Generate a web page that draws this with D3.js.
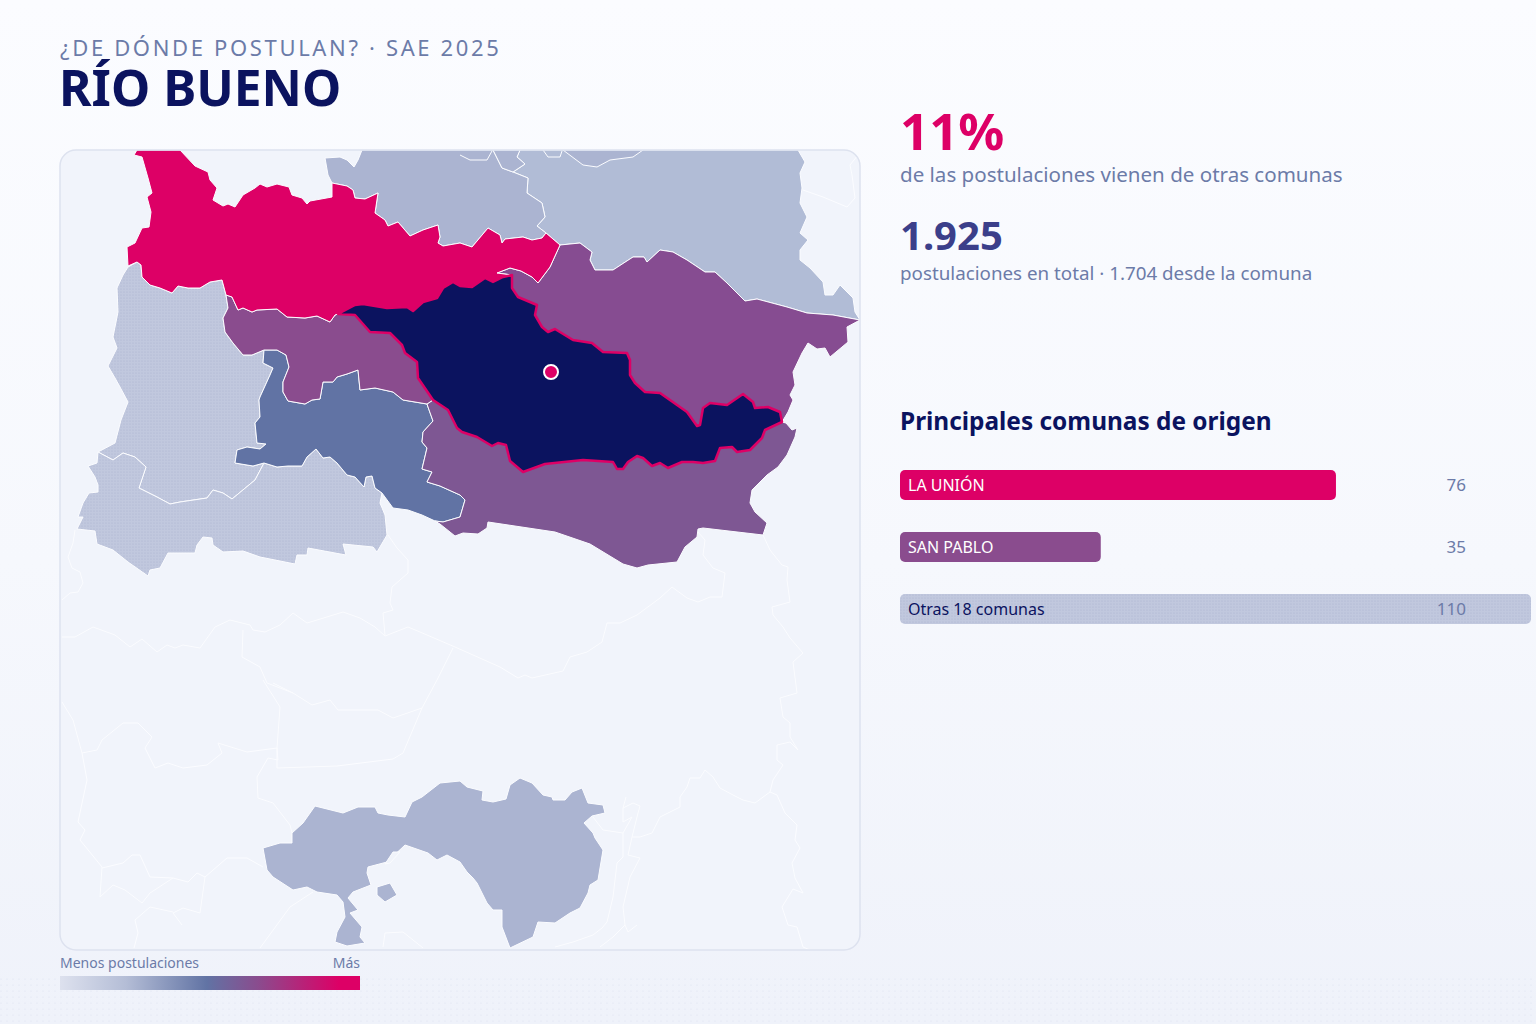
<!DOCTYPE html>
<html lang="es">
<head>
<meta charset="utf-8">
<title>Río Bueno</title>
<script src="https://cdn.jsdelivr.net/npm/d3@7"></script>
<style>
  html, body { margin: 0; padding: 0; background: #f8f9fd; overflow: hidden; }
  text { font-family: "Noto Sans", "Open Sans", sans-serif; }
</style>
</head>
<body>
<svg id="chart" width="1536" height="1024"></svg>
<script>
// textos
const subtitulo = '¿DE DÓNDE POSTULAN? · SAE 2025';
const comuna = 'RÍO BUENO';
const kpiValores = ['11%', '1.925'];
const kpiTextos = ['de las postulaciones vienen de otras comunas', 'postulaciones en total · 1.704 desde la comuna'];
const rankingTitulo = 'Principales comunas de origen';
const leyendaTextos = ['Menos postulaciones', 'Más'];

// barras
const origenes = ['LA UNIÓN', 'SAN PABLO', 'Otras 18 comunas'];
const postulaciones = [76, 35, 110];
const coloresBarra = ['#dd0066', '#8a4c8e', '#c0c7de'];

// leyenda
const leyendaPos = [0, 0.22, 0.49, 0.66, 0.93, 1];
const leyendaColores = ['#dde1ee', '#b4bdd6', '#6173a4', '#8a4c8e', '#dd0066', '#dd0066'];

// bordes compartidos
const unionCostaNorte = [[134,155],[137,150],[149,150],[180,150],[195,166],[208,172],[210,180],[217,188],[213,200],[223,206],[228,204],[235,207],[243,195],[255,188],[260,184],[267,187],[277,184],[289,187],[292,195],[302,198],[307,204],[310,201],[332,197],[332,183]];
const unionNorte = [[347,186],[353,190],[355,198],[365,199],[378,193],[375,213],[385,220],[388,226],[398,222],[410,236],[423,230],[438,225],[440,237],[438,243],[443,246],[460,243],[472,247],[488,228],[500,235],[502,243],[505,239],[523,237],[532,240],[542,238],[546,233]];
const unionNe = [[560,245],[550,267],[538,283],[532,277],[521,271],[510,268],[497,273]];
const unionRioBueno = [[338,314],[355,305],[363,304],[387,308],[407,307],[413,311],[423,302],[437,298],[443,288],[453,282],[460,286],[472,287],[485,278],[493,282],[503,277],[512,275]];
const unionOeste = [[338,314],[335,315],[330,322],[317,316],[305,318],[287,317],[277,309],[257,310],[252,312],[243,308],[238,310],[232,297],[226,295]];
const unionSur = [[222,280],[210,282],[200,288],[188,288],[178,286],[172,293],[160,288],[150,285],[142,277],[141,265],[137,262]];
const unionCostaOeste = [[128,266],[127,247],[135,243],[142,228],[149,227],[151,212],[147,197],[152,193],[148,178],[142,157]];

const neRioBueno = [[512,275],[512,288],[518,297],[537,305],[535,315],[542,327],[548,332],[555,329],[573,340],[592,343],[603,352],[627,353],[630,360],[630,375],[635,383],[645,392],[660,393],[687,412],[697,426],[700,425],[703,408],[710,403],[727,405],[743,394],[753,402],[755,408],[768,407],[780,412],[782,422]];
const surRioBueno = [[782,422],[765,430],[762,438],[750,450],[737,452],[732,447],[720,448],[715,461],[703,463],[693,462],[682,462],[668,468],[660,463],[652,466],[643,458],[637,456],[628,462],[623,469],[617,469],[613,462],[583,460],[545,464],[523,472],[510,461],[506,445],[498,443],[492,446],[477,437],[462,432],[457,428],[448,410],[433,400]];
const oesteRioBueno = [[433,400],[418,378],[417,362],[405,353],[402,345],[390,333],[370,332],[355,315],[338,314]];

const neNorte = [[560,245],[580,243],[592,252],[590,260],[595,270],[613,270],[633,257],[644,257],[647,262],[660,250],[673,252],[687,260],[705,272],[715,272],[727,283],[745,301],[757,299],[787,307],[807,313],[833,315],[860,320]];
const neEste = [[847,327],[848,342],[830,357],[825,348],[817,349],[808,343],[802,353],[793,372],[795,385],[790,395],[793,400],[788,412]];

const surContorno = [[786,423],[792,430],[797,428],[795,437],[787,455],[778,467],[767,475],[752,490],[750,503],[755,512],[767,523],[763,535],[703,528],[698,529],[697,537],[685,547],[677,562],[648,565],[637,568],[623,564],[590,544],[555,532],[488,522],[487,528],[478,534],[463,533],[455,536],[440,524],[435,521]];

const azulNorte = [[264,350],[277,350],[286,355],[289,367],[283,382],[283,392],[288,401],[305,404],[312,400],[320,399],[323,382],[333,382],[337,377],[347,374],[358,370],[360,390],[375,388],[393,392],[403,400],[427,404]];
const azulSur = [[428,407],[433,421],[423,432],[422,442],[427,448],[422,469],[432,472],[427,482],[440,486],[460,495],[465,500],[460,517],[443,522],[435,521]];
const azulBajoEste = [[422,515],[408,510],[393,508],[382,493]];
const azulBajoOeste = [[382,493],[375,488],[372,476],[366,477],[364,487],[355,477],[347,475],[337,463],[330,457],[323,458],[316,449],[307,457],[302,466],[288,466],[277,467],[264,463]];
const azulOeste = [[253,466],[235,463],[237,450],[247,447],[260,449],[266,444],[257,443],[255,423],[260,417],[259,400],[260,397],[270,375],[273,368],[263,363]];
const oesteIzq = [[228,308],[223,318],[225,332],[233,343],[243,355],[252,355],[264,350]];

const costaBajo = [[264,463],[255,480],[232,499],[223,493],[213,490],[207,498],[180,502],[170,504],[157,497],[139,488],[146,467],[135,457],[123,453],[113,460],[98,452]];
const costaOeste = [[115,443],[121,420],[128,402],[120,387],[115,378],[108,366],[117,348],[113,337],[118,312],[117,288],[123,275],[128,267]];
const swSur = [[380,503],[385,515],[387,535],[377,552],[373,547],[343,544],[346,555],[335,553],[308,548],[307,555],[297,555],[295,564],[280,561],[260,557],[243,551],[223,552],[213,545],[212,538],[203,537],[197,545],[195,553],[168,553],[160,568],[150,570],[148,576],[128,562],[113,550],[97,544],[95,531],[77,529],[83,517],[78,517],[83,503],[89,493],[98,492],[98,485],[95,477],[88,466],[97,463]];

const norteOeste = [[362,150],[358,160],[354,167],[347,160],[340,157],[325,158],[328,175],[332,183]];
const norteEste = [[537,226],[545,217],[542,203],[527,193],[528,178],[513,172]];
const norteCierre = [[502,168],[493,150]];
const celdaNorte = [[493,150],[502,168],[513,172],[525,164],[517,157],[520,150]];
const celdaNorte2 = [[563,150],[583,165],[597,167],[610,160],[633,157],[643,150]];
const altaEste = [[855,312],[853,298],[840,285],[833,295],[825,295],[823,282],[810,268],[800,260],[800,250],[808,240],[800,233],[807,217],[800,203],[802,188],[800,173],[805,162],[798,150]];

const sur2Contorno = [[263,848],[280,843],[292,843],[292,833],[303,823],[315,806],[343,813],[358,807],[375,807],[378,813],[388,815],[405,817],[412,802],[422,797],[440,783],[460,781],[467,787],[483,791],[482,800],[493,802],[506,799],[510,785],[520,778],[532,783],[543,795],[552,797],[553,800],[565,800],[572,792],[582,788],[588,803],[603,805],[605,813],[592,816],[584,823],[593,833],[595,838],[603,850],[600,868],[598,880],[590,885],[588,893],[580,908],[570,913],[555,923],[538,922],[533,937],[510,948],[502,927],[502,910],[493,910],[487,903],[477,883],[473,878],[467,872],[460,862],[447,855],[437,860],[428,853],[405,845],[387,862],[368,867],[367,873],[371,885],[353,892],[348,898],[358,910],[350,913],[362,927],[360,937],[365,943],[347,946],[335,942],[337,932],[345,917],[343,902],[337,895],[317,892],[307,887],[293,890],[273,877],[267,870]];
const isla = [[377,887],[390,883],[397,895],[385,902],[377,895]];
const canal = [[393,852],[400,852],[390,863],[385,864]];

const rev = a => a.slice().reverse();

// comunas: poligono y color
const comunas = [
  { nombre: 'Alta norte', pts: [[520,150],[517,157],[525,164], ...rev(norteEste), [546,233], ...neNorte, ...altaEste], color: '#b1bcd6' },
  { nombre: 'Norte', pts: [...norteOeste, ...unionNorte, ...norteEste, ...norteCierre], color: '#abb4d1' },
  { nombre: 'Celda norte', pts: celdaNorte, color: '#abb4d1' },
  { nombre: 'Celda norte 2', pts: celdaNorte2, color: '#abb4d1' },
  { nombre: 'Costa', pts: [...rev(unionSur), [226,295], ...oesteIzq, ...azulOeste.slice(2).reverse(), [235,463], [253,466], ...costaBajo, ...costaOeste], color: 'url(#puntos)' },
  { nombre: 'Suroeste', pts: [...rev(costaBajo), ...rev(azulBajoOeste), ...swSur], color: 'url(#puntos)' },
  { nombre: 'Azul', pts: [...azulNorte, ...azulSur, ...azulBajoEste, ...azulBajoOeste, ...azulOeste], color: '#6173a4' },
  { nombre: 'Sur', pts: [[782,422], ...surContorno, ...rev(azulSur), [427,404], ...rev(surRioBueno)], color: '#7e5793' },
  { nombre: 'SAN PABLO', pts: [...unionOeste, ...oesteIzq, ...azulNorte, ...oesteRioBueno], color: '#8a4c8e' },
  { nombre: 'Noreste', pts: [...neNorte, ...neEste, ...rev(neRioBueno), ...rev(unionNe)], color: '#864c91' },
  { nombre: 'LA UNIÓN', pts: [...unionCostaNorte, ...unionNorte, ...unionNe, ...rev(unionRioBueno), ...unionOeste, ...unionSur, ...unionCostaOeste], color: '#dd0066' },
  { nombre: 'Sur isla', pts: sur2Contorno, color: '#abb4d1' },
  { nombre: 'Isla', pts: isla, color: '#abb4d1' },
  { nombre: 'Canal', pts: canal, color: '#f1f4fb' }
];
const rioBueno = [...unionRioBueno, ...neRioBueno, ...surRioBueno, ...oesteRioBueno];
const rioBuenoCentro = [551, 372];

// limites de las comunas sin postulaciones
const limites = [
  [[460,155],[470,160],[487,160],[492,151]],
  [[543,150],[548,157],[560,157],[562,151]],
  [[803,190],[823,197],[847,207],[855,198],[852,175],[850,165],[858,155]],
  [[75,530],[73,543],[68,557],[72,568],[80,572],[83,583],[78,592],[70,593],[62,600]],
  [[388,535],[397,548],[408,560],[408,573],[392,587],[390,603],[393,610],[383,613],[385,635]],
  [[62,637],[75,637],[93,627],[115,635],[130,647],[142,639],[157,652],[167,645],[175,648],[183,645],[200,648],[215,627],[230,620],[250,625],[253,630],[265,632],[280,625],[293,613],[307,623],[317,620],[343,612],[360,618],[375,627],[385,636],[408,627],[420,632],[455,647],[500,667],[518,678],[525,675],[532,678],[563,671],[570,657],[587,652],[602,642],[607,623],[620,623],[637,615],[660,598],[672,587],[687,598],[698,602],[710,597],[722,597],[725,573],[713,568],[703,555],[705,540],[698,532]],
  [[763,535],[770,550],[782,565],[788,567],[787,580],[790,602],[772,607],[773,615],[783,627],[790,638],[803,653],[793,662],[797,693],[780,698],[783,717],[790,723],[790,737],[798,750],[790,742],[777,745],[777,760],[783,765],[773,780],[770,792],[777,795],[785,813],[797,825],[795,840],[800,848],[792,863],[795,878],[803,893],[793,889],[782,907],[788,925],[797,927],[803,947],[810,950]],
  [[770,792],[755,803],[743,800],[733,795],[720,788],[713,777],[705,770],[700,778],[690,778],[687,787],[680,797],[680,807],[660,817],[652,833],[640,837],[632,837],[628,855],[640,858],[630,877],[623,907],[625,925],[628,932],[637,925]],
  [[625,925],[613,937],[600,947]],
  [[632,837],[638,813],[640,806],[633,803],[623,808],[626,797]],
  [[623,808],[623,822],[632,817],[623,833],[603,830],[593,817]],
  [[623,833],[623,857],[617,863],[613,897],[607,922],[602,928],[593,935],[573,942],[555,947]],
  [[62,702],[73,720],[82,753],[97,750],[102,740],[123,723],[138,723],[152,737],[145,748],[155,768],[168,763],[183,768],[207,765],[222,753],[218,743],[247,752],[277,748],[278,760],[268,758],[257,777],[258,798],[273,803],[290,825],[292,833]],
  [[82,753],[87,780],[78,822],[85,830],[80,840],[102,867],[100,897]],
  [[102,868],[123,863],[132,855],[140,855],[150,877],[173,878],[188,882],[197,873],[205,877],[227,858],[247,858],[263,867]],
  [[205,877],[200,913],[183,908],[173,913],[182,925]],
  [[100,897],[113,885],[125,890],[142,903],[150,893],[173,878]],
  [[150,907],[135,920],[138,933],[134,948]],
  [[150,907],[173,912]],
  [[263,680],[280,707],[277,748],[277,768],[337,766],[393,759],[403,753],[422,708],[437,680],[453,648]],
  [[422,708],[393,718],[378,710],[338,710],[330,700],[312,705],[293,693],[273,683]],
  [[243,630],[242,657],[260,667],[267,683],[293,693]],
  [[260,948],[290,907],[313,892]],
  [[383,947],[385,933],[403,932],[423,948]]
];

const svg = d3.select('#chart');
const defs = svg.append('defs');

// fondo
const fondo = defs.append('linearGradient').attr('id', 'fondo').attr('x2', 0).attr('y2', 1);
fondo.append('stop').attr('offset', 0).attr('stop-color', '#fbfcff');
fondo.append('stop').attr('offset', 0.55).attr('stop-color', '#f6f8fd');
fondo.append('stop').attr('offset', 1).attr('stop-color', '#eff2fa');

const puntos = defs.append('pattern').attr('id', 'puntos')
  .attr('width', 3).attr('height', 3).attr('patternUnits', 'userSpaceOnUse');
puntos.append('rect').attr('width', 3).attr('height', 3).attr('fill', '#c1c8de');
puntos.append('circle').attr('cx', 1).attr('cy', 1).attr('r', 0.6).attr('fill', '#aab3d0');

const grano = defs.append('pattern').attr('id', 'grano')
  .attr('width', 6).attr('height', 6).attr('patternUnits', 'userSpaceOnUse');
grano.append('circle').attr('cx', 1).attr('cy', 1).attr('r', 0.5).attr('fill', '#d5dbea');

svg.append('rect').attr('width', 1536).attr('height', 1024).attr('fill', 'url(#fondo)');
svg.append('rect').attr('y', 976).attr('width', 1536).attr('height', 48).attr('fill', 'url(#grano)');

// titulo
svg.append('text').attr('x', 60).attr('y', 56).attr('font-size', 22).attr('letter-spacing', 2.65)
  .attr('fill', '#6c7ba8').text(subtitulo);
svg.append('text').attr('x', 59).attr('y', 106).attr('font-size', 49.7).attr('font-weight', 700)
  .attr('fill', '#0b135f').text(comuna);

// mapa
const mapaX = d3.scaleLinear().domain([60, 860]).range([0, 800]);
const mapaY = d3.scaleLinear().domain([150, 950]).range([0, 800]);
const linea = d3.line().x(d => mapaX(d[0])).y(d => mapaY(d[1]));

defs.append('clipPath').attr('id', 'panel')
  .append('rect').attr('width', 800).attr('height', 800).attr('rx', 16);

const mapa = svg.append('g').attr('transform', 'translate(60,150)');
mapa.append('rect').attr('width', 800).attr('height', 800).attr('rx', 16).attr('fill', '#f1f4fb');

const capa = mapa.append('g').attr('clip-path', 'url(#panel)');

capa.selectAll('path.limite')
  .data(limites)
  .enter().append('path')
  .attr('class', 'limite')
  .attr('d', d => linea(d))
  .attr('fill', 'none')
  .attr('stroke', '#fbfcff')
  .attr('stroke-width', 1);

capa.selectAll('path.comuna')
  .data(comunas)
  .enter().append('path')
  .attr('class', 'comuna')
  .attr('d', d => linea(d.pts) + 'Z')
  .attr('fill', d => d.color)
  .attr('stroke', '#fbfcff')
  .attr('stroke-width', 1)
  .attr('stroke-linejoin', 'round');

capa.selectAll('path.corte')
  .data(limites.slice(0, 2))
  .enter().append('path')
  .attr('class', 'corte')
  .attr('d', d => linea(d))
  .attr('fill', 'none')
  .attr('stroke', '#fbfcff');

capa.append('path')
  .attr('d', linea(rioBueno) + 'Z')
  .attr('fill', '#0b135f')
  .attr('stroke', '#dd0066')
  .attr('stroke-width', 2.5)
  .attr('stroke-linejoin', 'round');

capa.append('circle')
  .attr('cx', mapaX(rioBuenoCentro[0]))
  .attr('cy', mapaY(rioBuenoCentro[1]))
  .attr('r', 7)
  .attr('fill', '#dd0066')
  .attr('stroke', '#fff')
  .attr('stroke-width', 2);

mapa.append('rect').attr('width', 800).attr('height', 800).attr('rx', 16)
  .attr('fill', 'none').attr('stroke', '#dde2ef').attr('stroke-width', 1.5);

// leyenda
const leyenda = defs.append('linearGradient').attr('id', 'leyenda');
leyenda.selectAll('stop')
  .data(leyendaPos)
  .enter().append('stop')
  .attr('offset', d => d)
  .attr('stop-color', (d, i) => leyendaColores[i]);
svg.append('rect').attr('x', 60).attr('y', 976).attr('width', 300).attr('height', 14).attr('fill', 'url(#leyenda)');
svg.append('text').attr('x', 60).attr('y', 968).attr('font-size', 14).attr('fill', '#6c7ba8').text(leyendaTextos[0]);
svg.append('text').attr('x', 360).attr('y', 968).attr('font-size', 14).attr('text-anchor', 'end').attr('fill', '#6c7ba8').text(leyendaTextos[1]);

// indicadores
svg.append('text').attr('x', 900).attr('y', 150).attr('font-size', 51).attr('font-weight', 700)
  .attr('fill', '#dd0066').text(kpiValores[0]);
svg.append('text').attr('x', 900).attr('y', 182).attr('font-size', 20.55)
  .attr('fill', '#6c7ba8').text(kpiTextos[0]);
svg.append('text').attr('x', 900).attr('y', 250).attr('font-size', 40).attr('font-weight', 700)
  .attr('fill', '#3b3f8a').text(kpiValores[1]);
svg.append('text').attr('x', 900).attr('y', 280).attr('font-size', 18.8)
  .attr('fill', '#6c7ba8').text(kpiTextos[1]);

// ranking
svg.append('text').attr('x', 900).attr('y', 430).attr('font-size', 24.4).attr('font-weight', 700)
  .attr('fill', '#0b135f').text(rankingTitulo);

const barraX = d3.scaleLinear().domain([0, 110]).range([0, 631]);
const barraY = d3.scaleBand().domain(origenes).range([470, 624]).paddingInner(32 / 62).paddingOuter(0);

const filas = svg.selectAll('g.fila')
  .data(origenes)
  .enter().append('g')
  .attr('class', 'fila')
  .attr('transform', d => `translate(900,${barraY(d)})`);

filas.append('rect')
  .attr('width', (d, i) => barraX(postulaciones[i]))
  .attr('height', barraY.bandwidth())
  .attr('rx', 5)
  .attr('fill', (d, i) => i === 2 ? 'url(#puntos)' : coloresBarra[i]);

filas.append('text')
  .attr('x', 8)
  .attr('y', barraY.bandwidth() / 2 + 6)
  .attr('font-size', 16)
  .attr('fill', (d, i) => i === 2 ? '#0b135f' : '#fff')
  .text(d => d);

filas.append('text')
  .attr('x', 566)
  .attr('y', barraY.bandwidth() / 2 + 6)
  .attr('font-size', 17)
  .attr('text-anchor', 'end')
  .attr('fill', '#6c7ba8')
  .text((d, i) => postulaciones[i]);
</script>
</body>
</html>
